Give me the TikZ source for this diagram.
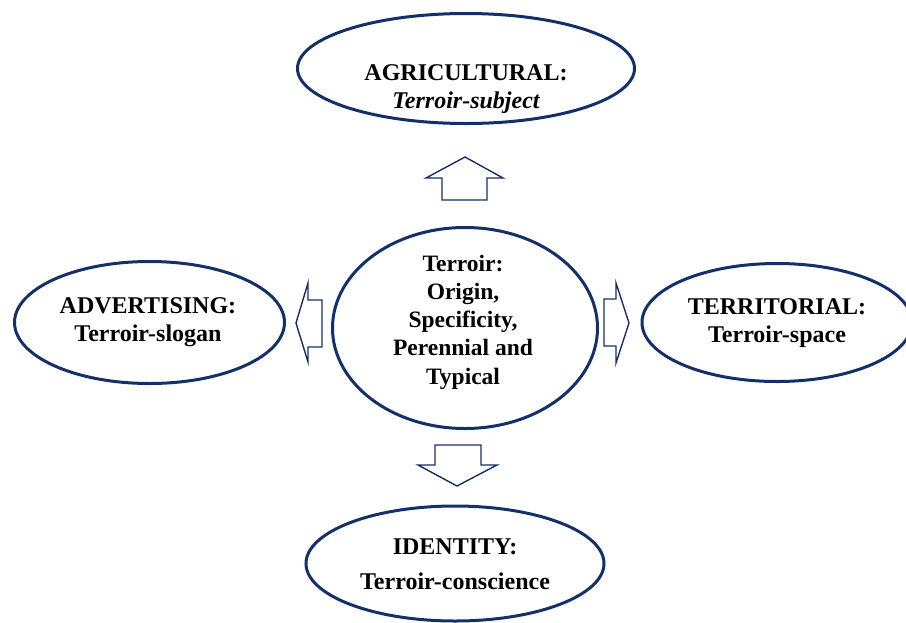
\documentclass[tikz,border=0pt]{standalone}
\usepackage{fontspec}
\setmainfont{Liberation Serif}
\usetikzlibrary{shapes.geometric}
\definecolor{navy}{HTML}{14306B}
\begin{document}
\begin{tikzpicture}[x=1pt,y=-1pt,
  oval/.style={draw=navy,line width=3pt,ellipse,inner sep=0pt},
  blockarrow/.style={draw=navy,line width=1.4pt,line join=miter},
  lbl/.style={align=center,font=\fontsize{24}{28}\selectfont\bfseries},
  clbl/.style={align=center,font=\fontsize{23.5}{28.3}\selectfont\bfseries}]
\useasboundingbox (0,0) rectangle (906,622);
\begin{scope}
\clip (0,0) rectangle (906,622);
\node[oval,minimum width=337,minimum height=110] (agri) at (466,68.5) {};
\node[oval,minimum width=265,minimum height=201] (core) at (465,328) {};
\node[oval,minimum width=270,minimum height=122] (adv) at (149.5,322.5) {};
\node[oval,minimum width=270,minimum height=118] (terr) at (777,322.5) {};
\node[oval,minimum width=298,minimum height=115] (iden) at (455,563.5) {};
\end{scope}
\node[lbl] (agritxt) at (466,89) {AGRICULTURAL:\\\itshape Terroir-subject};
\node[lbl] (advtxt) at (148,322) {ADVERTISING:\\Terroir-slogan};
\node[lbl] (terrtxt) at (777,323) {TERRITORIAL:\\Terroir-space};
\node[lbl] (identxt) at (455,564) {IDENTITY:\\[7pt]Terroir-conscience};
\node[clbl] (coretxt) at (463,322) {Terroir:\\Origin,\\Specificity,\\Perennial and\\Typical};
% block arrows
\draw[blockarrow] (442,200) -- (442,178) -- (426,178) -- (465,157) -- (503,178) -- (487,178) -- (487,200) -- cycle;
\draw[blockarrow] (322,300) -- (308,300) -- (308,283) -- (296,323) -- (308,362) -- (308,347) -- (322,347) -- cycle;
\draw[blockarrow] (604,299) -- (616,299) -- (616,283) -- (629,323) -- (616,363) -- (616,346) -- (604,346) -- cycle;
\draw[blockarrow] (435,445) -- (481,445) -- (481,465) -- (497,465) -- (457,486) -- (418,465) -- (435,465) -- cycle;
\end{tikzpicture}
\end{document}
